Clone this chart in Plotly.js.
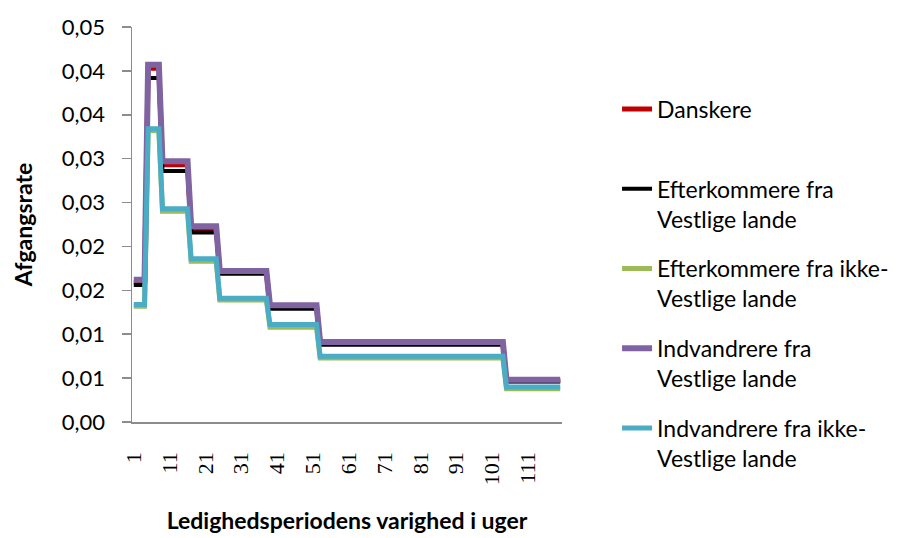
<!DOCTYPE html>
<html>
<head>
<meta charset="utf-8">
<script src="https://cdn.plot.ly/plotly-3.0.1.min.js"></script>
<style>
  html, body { margin: 0; padding: 0; background: #ffffff; }
  #chart { width: 916px; height: 538px; }
</style>
</head>
<body>
<div id="chart"></div>
<script>
// Weeks at which the rate changes (start and end of each duration interval)
const weeks = [1, 4, 5, 8, 9, 16, 17, 24, 25, 38, 39, 52, 53, 104, 105, 120];

const danskere          = [0.0159, 0.0159, 0.0403, 0.0403, 0.0293, 0.0293, 0.0220, 0.0220, 0.0171, 0.0171, 0.0132, 0.0132, 0.0090, 0.0090, 0.0047, 0.0047];
const efterkVestlige    = [0.0156, 0.0156, 0.0392, 0.0392, 0.0286, 0.0286, 0.0216, 0.0216, 0.0169, 0.0169, 0.0129, 0.0129, 0.0088, 0.0088, 0.0046, 0.0046];
const efterkIkkeVestl   = [0.0132, 0.0132, 0.0332, 0.0332, 0.0240, 0.0240, 0.0183, 0.0183, 0.0139, 0.0139, 0.0108, 0.0108, 0.0073, 0.0073, 0.0038, 0.0038];
const indvVestlige      = [0.0162, 0.0162, 0.0407, 0.0407, 0.0297, 0.0297, 0.0223, 0.0223, 0.0172, 0.0172, 0.0133, 0.0133, 0.0091, 0.0091, 0.0048, 0.0048];
const indvIkkeVestlige  = [0.0134, 0.0134, 0.0334, 0.0334, 0.0243, 0.0243, 0.0186, 0.0186, 0.0141, 0.0141, 0.0111, 0.0111, 0.0075, 0.0075, 0.0040, 0.0040];

const seriesNames = [
  'Danskere<br> ',
  'Efterkommere fra<br>Vestlige lande',
  'Efterkommere fra ikke-<br>Vestlige lande',
  'Indvandrere fra<br>Vestlige lande',
  'Indvandrere fra ikke-<br>Vestlige lande'
];

const xTickVals = [1, 11, 21, 31, 41, 51, 61, 71, 81, 91, 101, 111];
const xTickText = ['1', '11', '21', '31', '41', '51', '61', '71', '81', '91', '101', '111'];
const yTickVals = [0, 0.005, 0.01, 0.015, 0.02, 0.025, 0.03, 0.035, 0.04, 0.045];
const yTickText = ['0,00', '0,01', '0,01', '0,02', '0,02', '0,03', '0,03', '0,04', '0,04', '0,05'];

const seriesData = [danskere, efterkVestlige, efterkIkkeVestl, indvVestlige, indvIkkeVestlige];
const colors = ['#C00000', '#000000', '#9BBB59', '#8064A2', '#4BACC6'];
const widths = [5, 4, 5, 6, 5];

const traces = seriesData.map((ys, i) => ({
  x: weeks,
  y: ys,
  type: 'scatter',
  mode: 'lines',
  name: seriesNames[i],
  legendgroup: 'g' + i,
  line: { color: colors[i], width: widths[i] },
  hoverinfo: 'skip'
}));

const layout = {
  width: 916,
  height: 538,
  margin: { l: 132, r: 354, t: 27, b: 116 },
  paper_bgcolor: '#ffffff',
  plot_bgcolor: '#ffffff',
  showlegend: true,
  legend: {
    x: 1.128, xanchor: 'left',
    y: 0.847, yanchor: 'top',
    traceorder: 'grouped',
    tracegroupgap: 17,
    valign: 'top',
    font: { family: 'Lato, "Open Sans", sans-serif', size: 23, color: '#000000' },
    bgcolor: 'rgba(0,0,0,0)'
  },
  xaxis: {
    type: 'linear',
    range: [0.5, 120.5],
    tickmode: 'array',
    tickvals: xTickVals,
    ticktext: xTickText,
    tickangle: -90,
    ticks: '',
    ticklabelstandoff: 20,
    showgrid: false,
    zeroline: false,
    showline: true,
    linecolor: '#8C8C8C',
    linewidth: 1.5,
    tickfont: { family: '"Liberation Serif", "Times New Roman", serif', size: 22, color: '#000000' },
    title: {
      text: '<b>Ledighedsperiodens varighed i uger</b>',
      font: { family: 'Lato, "Open Sans", sans-serif', size: 23, color: '#000000' },
      standoff: 28
    }
  },
  yaxis: {
    range: [0, 0.045],
    tickmode: 'array',
    tickvals: yTickVals,
    ticktext: yTickText,
    ticks: 'outside',
    ticklen: 9,
    tickcolor: '#8C8C8C',
    tickwidth: 1.5,
    ticklabelstandoff: 12,
    showgrid: false,
    zeroline: false,
    showline: true,
    linecolor: '#8C8C8C',
    linewidth: 1.5,
    tickfont: { family: 'Lato, "Open Sans", sans-serif', size: 22, color: '#000000' },
    title: {
      text: '<b>Afgangsrate</b>',
      font: { family: 'Lato, "Open Sans", sans-serif', size: 23, color: '#000000' },
      standoff: 23
    }
  }
};

Plotly.newPlot('chart', traces, layout, { staticPlot: true, displayModeBar: false });
</script>
</body>
</html>
